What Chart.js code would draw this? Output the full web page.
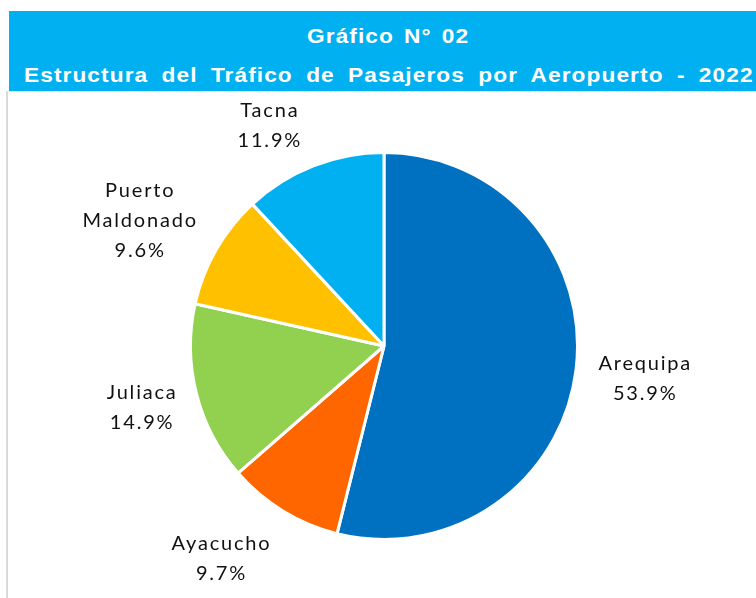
<!DOCTYPE html>
<html>
<head>
<meta charset="utf-8">
<script src="https://cdn.jsdelivr.net/npm/chart.js@4.4.0/dist/chart.umd.min.js"></script>
<style>
  html, body { margin: 0; padding: 0; background: #fff; }
  body { width: 756px; height: 598px; position: relative; overflow: hidden; }
  .head {
    position: absolute; left: 9px; top: 11px; width: 747px; height: 80px;
    background: #00b0f0; color: #fff; overflow: hidden;
    font-family: "Liberation Sans", Arial, sans-serif; font-weight: bold; font-size: 21px;
    letter-spacing: 1px;
  }
  .head div { position: absolute; white-space: nowrap; transform: scaleX(1.08); transform-origin: left center; }
  .head .t1 { top: 13px; left: 298px; word-spacing: 2.5px; }
  .head .t2 { top: 52px; left: 15px; word-spacing: 5.5px; }
  .box {
    position: absolute; left: 6px; top: 91px; width: 750px; height: 507px;
    border-left: 2px solid #d9d9d9; border-top: 1px solid #e6e6e6;
  }
  canvas { position: absolute; left: 8px; top: 92px; }
</style>
</head>
<body>
<div class="head">
  <div class="t1">Gráfico N° 02</div>
  <div class="t2">Estructura del Tráfico de Pasajeros por Aeropuerto - 2022</div>
</div>
<div class="box"></div>
<canvas id="pie" width="748" height="506"></canvas>
<script>
// Airports and their share of passenger traffic, 2022 (%)
const airports = ['Arequipa', 'Ayacucho', 'Juliaca', 'Puerto Maldonado', 'Tacna'];
const shares = [53.9, 9.7, 14.9, 9.6, 11.9];
// label lines as shown in the picture
const labelLines = [['Arequipa'], ['Ayacucho'], ['Juliaca'], ['Puerto', 'Maldonado'], ['Tacna']];

const colors = ['#0070c0', '#ff6600', '#92d050', '#ffc000', '#00b0f0'];
// where each label block sits, relative to the pie centre, in radii
const labelOffset = [[1.35, 0.17], [-0.84, 1.10], [-1.25, 0.32], [-1.26, -0.65], [-0.59, -1.14]];

const outsideLabels = {
  id: 'outsideLabels',
  afterDraw(chart){
    const ctx = chart.ctx;
    const arcs = chart.getDatasetMeta(0).data;
    ctx.save();
    ctx.font = '20px Lato, "Open Sans", sans-serif';
    ctx.letterSpacing = '1.8px';
    ctx.fillStyle = '#111';
    ctx.textAlign = 'center';
    ctx.textBaseline = 'middle';
    arcs.forEach((arc, i) => {
      const { x, y, outerRadius } = arc.getProps(['x', 'y', 'outerRadius'], true);
      const lx = x + labelOffset[i][0] * outerRadius;
      const ly = y + labelOffset[i][1] * outerRadius;
      const lines = labelLines[i].concat([shares[i].toFixed(1) + '%']);
      const lh = 30;
      const top = ly - (lines.length - 1) * lh / 2;
      lines.forEach((t, k) => ctx.fillText(t, lx, top + k * lh));
    });
    ctx.restore();
  }
};

new Chart(document.getElementById('pie'), {
  type: 'pie',
  data: {
    labels: airports,
    datasets: [{
      data: shares,
      backgroundColor: colors,
      borderColor: '#fff',
      borderWidth: 3,
    }]
  },
  options: {
    responsive: false,
    animation: false,
    layout: { padding: { left: 181, right: 177, top: 59, bottom: 57 } },
    plugins: { legend: { display: false }, tooltip: { enabled: false } }
  },
  plugins: [outsideLabels]
});
</script>
</body>
</html>
